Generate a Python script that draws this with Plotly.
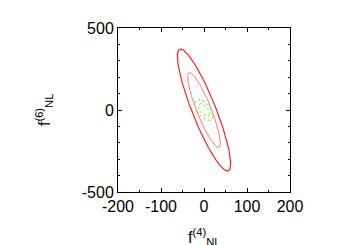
import numpy as np
import plotly.graph_objects as go

# Ellipse definitions (Fisher-forecast contours): center, sigma_x, sigma_y, correlation, level scale
red_center = [0.0, 0.0]
red_sigma = [25.0, 150.0]
red_rho = -0.88
red_levels = [2.48, 1.52]          # outer (2-sigma), inner (1-sigma)
red_colors = ["#ff2020", "#ff7878"]
red_widths = [1.2, 1.0]

green_center = [0.0, 0.0]
green_sigma = [8.5, 25.5]
green_rho = -0.57
green_levels = [2.48, 1.52]
green_colors = ["#80e040", "#80e040"]

x_ticks = [-200, -100, 0, 100, 200]
x_labels = ["-200", "-100", "0", "100", "200"]
y_ticks = [-500, 0, 500]
y_labels = ["-500", "0", "500"]


def ellipse(center, sigma, rho, k, n=200):
    t = np.linspace(0, 2 * np.pi, n)
    ax = k * sigma[0]
    ay = k * sigma[1]
    x = center[0] + ax * np.cos(t)
    y = center[1] + ay * (rho * np.cos(t) - np.sqrt(1 - rho ** 2) * np.sin(t))
    return x, y


fig = go.Figure()
for k, c, w in zip(red_levels, red_colors, red_widths):
    x, y = ellipse(red_center, red_sigma, red_rho, k)
    fig.add_trace(go.Scatter(x=x, y=y, mode="lines", line=dict(color=c, width=w),
                             hoverinfo="skip", showlegend=False))
for k, c in zip(green_levels, green_colors):
    x, y = ellipse(green_center, green_sigma, green_rho, k)
    fig.add_trace(go.Scatter(x=x, y=y, mode="lines", line=dict(color=c, width=1, dash="3px,2px"),
                             hoverinfo="skip", showlegend=False))

font = dict(family="Liberation Sans, Arial, sans-serif", size=16, color="black")
fig.update_layout(
    width=350, height=245,
    margin=dict(l=110, r=68, t=12, b=61),
    paper_bgcolor="white", plot_bgcolor="white",
    font=font,
    showlegend=False,
)
fig.update_xaxes(range=[-200, 200], tickvals=x_ticks, ticktext=x_labels, ticks="inside", ticklen=4,
                 tickcolor="black", showline=True, linecolor="black", linewidth=1,
                 mirror="ticks", showgrid=False, zeroline=False,
                 minor=dict(dtick=50, ticks="inside", ticklen=2, tickcolor="black", showgrid=False),
                 tickfont=font)
fig.update_yaxes(range=[-500, 500], tickvals=y_ticks, ticktext=y_labels, ticks="inside", ticklen=4,
                 tickcolor="black", showline=True, linecolor="black", linewidth=1,
                 mirror="ticks", showgrid=False, zeroline=False,
                 minor=dict(dtick=100, ticks="inside", ticklen=2, tickcolor="black", showgrid=False),
                 tickfont=font)

fig.add_annotation(text="f<sup>(4)</sup><sub>NL</sub>", xref="paper", yref="paper",
                   x=0.5, y=-0.195, xanchor="center", yanchor="top", showarrow=False, font=font)
fig.add_annotation(text="f<sup>(6)</sup><sub>NL</sub>", xref="paper", yref="paper",
                   x=-0.43, y=0.5, xanchor="center", yanchor="middle", textangle=-90,
                   showarrow=False, font=font)

fig.write_html("out.html")
